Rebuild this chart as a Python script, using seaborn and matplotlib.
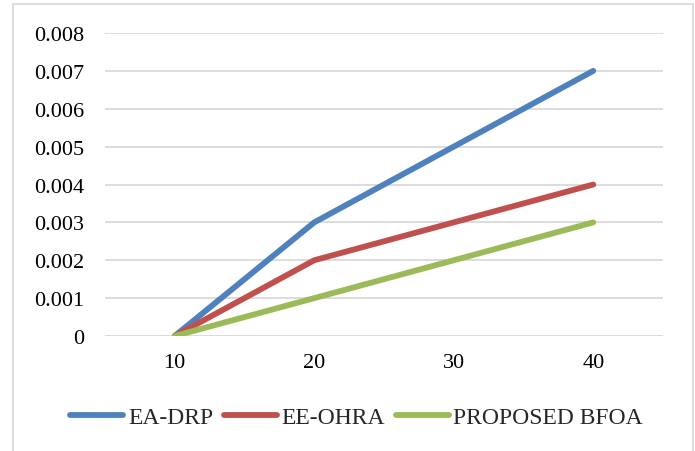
import numpy as np
import pandas as pd
import matplotlib
matplotlib.use("Agg")
import matplotlib.pyplot as plt
import seaborn as sns
from matplotlib.patches import Rectangle

# data
x_vals = [10, 20, 30, 40]
ea_drp = [0.0, 0.003, 0.005, 0.007]
ee_ohra = [0.0, 0.002, 0.003, 0.004]
bfoa = [0.0, 0.001, 0.002, 0.003]
series_names = ["EA-DRP", "EE-OHRA", "PROPOSED BFOA"]
y_ticks = [0, 0.001, 0.002, 0.003, 0.004, 0.005, 0.006, 0.007, 0.008]
y_labels = ["0", "0.001", "0.002", "0.003", "0.004", "0.005", "0.006", "0.007", "0.008"]

dt = pd.DataFrame({
    "x": x_vals * 3,
    "value": ea_drp + ee_ohra + bfoa,
    "series": np.repeat(series_names, len(x_vals)),
})

sns.set_theme(style="whitegrid")
plt.rcParams["font.family"] = ["Liberation Serif", "DejaVu Serif"]

fig = plt.figure(figsize=(6.95, 4.52), dpi=100)
ax = fig.add_axes([0.151, 0.2544, 0.803, 0.6704])

palette = {"EA-DRP": "#4F81BD", "EE-OHRA": "#C0504D", "PROPOSED BFOA": "#9BBB59"}
sns.lineplot(data=dt, x="x", y="value", hue="series", palette=palette,
             linewidth=4.2, ax=ax, solid_capstyle="round", legend=True)

ax.set_xlim(5, 45)
ax.set_ylim(0, 0.008)
ax.set_xticks(x_vals)
ax.set_xticklabels([str(v) for v in x_vals])
ax.set_yticks(y_ticks)
ax.set_yticklabels(y_labels)
ax.set_xlabel("")
ax.set_ylabel("")
ax.grid(axis="y", color="#d9d9d9", linewidth=1.3)
ax.grid(axis="x", visible=False)
for s in ax.spines.values():
    s.set_visible(False)
ax.tick_params(axis="y", length=0, pad=15, labelsize=16, labelcolor="#000000")
ax.tick_params(axis="x", length=0, pad=12, labelsize=16, labelcolor="#000000")

ax.legend_.remove()
handles, labels = ax.get_legend_handles_labels()
fig.legend(handles, labels, loc="center", bbox_to_anchor=(0.513, 0.075), ncol=3,
           frameon=False, fontsize=17, handlelength=2.25, handletextpad=0.2,
           columnspacing=0.45)

# light grey chart border like the original
fig.patches.append(Rectangle((13 / 695, -0.05), 680 / 695, 1.05 - 5 / 452,
                             transform=fig.transFigure, fill=False,
                             edgecolor="#d9d9d9", linewidth=1.3))

fig.savefig("out.png", dpi=100)
